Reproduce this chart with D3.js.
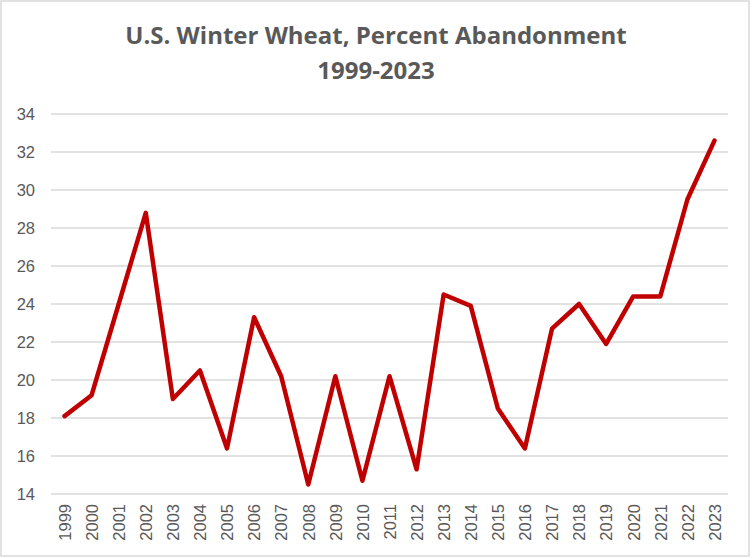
<!DOCTYPE html>
<meta charset="utf-8">
<style>
  body { margin: 0; background: #fff; }
  svg { display: block; }
  .tick text { font-family: "Liberation Sans", Arial, sans-serif; font-size: 16.5px; fill: #595959; }
  .title { font-family: "Open Sans", Lato, sans-serif; font-weight: bold; fill: #595959; }
</style>
<body>
<svg id="chart" width="752" height="558"></svg>
<script src="https://d3js.org/d3.v7.min.js"></script>
<script>
  const years = ["1999","2000","2001","2002","2003","2004","2005","2006","2007","2008","2009","2010",
    "2011","2012","2013","2014","2015","2016","2017","2018","2019","2020","2021","2022","2023"];
  const abandonment = [18.1, 19.2, 24.0, 28.8, 19.0, 20.5, 16.4, 23.3, 20.2, 14.5, 20.2, 14.7,
    20.2, 15.3, 24.5, 23.9, 18.5, 16.4, 22.7, 24.0, 21.9, 24.4, 24.4, 29.5, 32.6];
  const yTicks = [14, 16, 18, 20, 22, 24, 26, 28, 30, 32, 34];

  const svg = d3.select("#chart");
  const W = 752, H = 558;
  const plotLeft = 51, plotRight = 728, plotTop = 114, plotBottom = 494;

  // chart border
  svg.append("rect")
    .attr("x", 1).attr("y", 1).attr("width", W - 4).attr("height", H - 3)
    .attr("fill", "#fff").attr("stroke", "#d9d9d9").attr("stroke-width", 1.5);

  svg.append("text").attr("class", "title")
    .attr("x", 376).attr("y", 44).attr("text-anchor", "middle")
    .attr("font-size", 24).text("U.S. Winter Wheat, Percent Abandonment");
  svg.append("text").attr("class", "title")
    .attr("x", 376).attr("y", 79).attr("text-anchor", "middle")
    .attr("font-size", 24).text("1999-2023");

  const x = d3.scalePoint().domain(years).range([plotLeft, plotRight]).padding(0.5);
  const y = d3.scaleLinear().domain([14, 34]).range([plotBottom, plotTop]);

  // gridlines
  svg.append("g")
    .selectAll("line")
    .data(yTicks)
    .join("line")
    .attr("x1", plotLeft).attr("x2", plotRight)
    .attr("y1", d => y(d)).attr("y2", d => y(d))
    .attr("stroke", "#d9d9d9").attr("stroke-width", 1.5);

  const yAxis = svg.append("g")
    .attr("transform", `translate(${plotLeft - 16},0)`)
    .call(d3.axisLeft(y).tickValues(yTicks).tickSize(0).tickPadding(0));
  yAxis.select(".domain").remove();
  yAxis.selectAll("text").attr("dy", "0.35em");

  const xAxis = svg.append("g")
    .attr("transform", `translate(0,${plotBottom})`)
    .call(d3.axisBottom(x).tickSize(0).tickPadding(0));
  xAxis.select(".domain").remove();
  xAxis.selectAll("text")
    .attr("transform", "rotate(-90)")
    .attr("text-anchor", "end")
    .attr("x", -10).attr("y", 0).attr("dy", "0.35em");

  svg.append("path")
    .datum(abandonment)
    .attr("fill", "none")
    .attr("stroke", "#c00000")
    .attr("stroke-width", 4.5)
    .attr("stroke-linejoin", "round")
    .attr("stroke-linecap", "round")
    .attr("d", d3.line().x((d, i) => x(years[i])).y(d => y(d)));
</script>
</body>
